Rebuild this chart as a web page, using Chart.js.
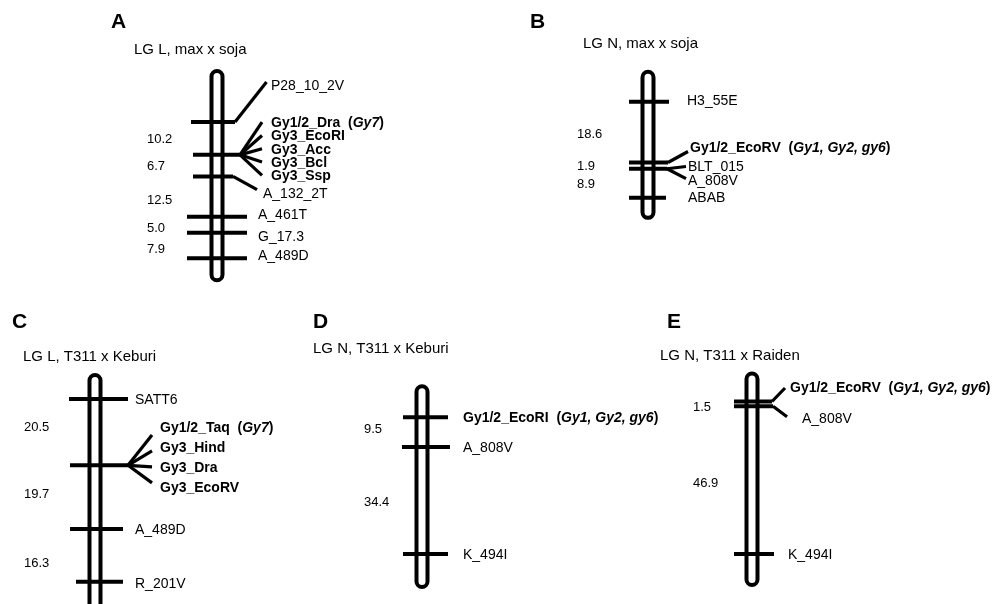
<!DOCTYPE html>
<html>
<head>
<meta charset="utf-8">
<script src="https://cdn.jsdelivr.net/npm/chart.js@4.4.1/dist/chart.umd.min.js"></script>
<style>
  html, body { margin: 0; padding: 0; background: #fff; }
  canvas { display: block; }
</style>
</head>
<body>
<canvas id="map" width="999" height="604"></canvas>
<script>
// ---- Linkage groups: markers per locus (top to bottom) and interval lengths (cM) ----
const lociA = [["P28_10_2V"], ["Gy1/2_Dra", "Gy3_EcoRI", "Gy3_Acc", "Gy3_Bcl", "Gy3_Ssp"], ["A_132_2T"], ["A_461T"], ["G_17.3"], ["A_489D"]];
const gapsA = [10.2, 6.7, 12.5, 5.0, 7.9];

const lociB = [["H3_55E"], ["Gy1/2_EcoRV"], ["BLT_015", "A_808V"], ["ABAB"]];
const gapsB = [18.6, 1.9, 8.9];

const lociC = [["SATT6"], ["Gy1/2_Taq", "Gy3_Hind", "Gy3_Dra", "Gy3_EcoRV"], ["A_489D"], ["R_201V"]];
const gapsC = [20.5, 19.7, 16.3];

const lociD = [["Gy1/2_EcoRI"], ["A_808V"], ["K_494I"]];
const gapsD = [9.5, 34.4];

const lociE = [["Gy1/2_EcoRV"], ["A_808V"], ["K_494I"]];
const gapsE = [1.5, 46.9];

// resistance genes attached to the Gy1/2 markers
const geneNames = {
  "Gy1/2_Dra": "Gy7",
  "Gy1/2_Taq": "Gy7",
  "Gy1/2_EcoRV": "Gy1, Gy2, gy6",
  "Gy1/2_EcoRI": "Gy1, Gy2, gy6"
};

const panelLetters = ["A", "B", "C", "D", "E"];
const panelTitles = ["LG L, max x soja", "LG N, max x soja", "LG L, T311 x Keburi", "LG N, T311 x Keburi", "LG N, T311 x Raiden"];

// ---- Page layout of each panel (pixels) ----
const W = 999, H = 604;
const FONT = '"Liberation Sans", Arial, Helvetica, sans-serif';

const layout = [
  { letter: [111, 28], title: [134, 54], cx: 217, y0: 122, k: 3.22, rodPad: [51, 22], numX: 147, numNudge: [0, 0, 3, 3, 3],
    marks: [
      { l: 26, r: 18, type: "diag", lx: 271, dy: -37, ey: -40, ex: 4.5 },
      { l: 24, r: 23, type: "fan", lx: 271, dy: -32.7, step: 13.3, sq: 1.0, ex: 9 },
      { l: 24, r: 16, type: "diag", lx: 263, dy: 16.6, ey: 13.3, ex: 6 },
      { l: 30, r: 30, lx: 258, dy: -3 },
      { l: 30, r: 30, lx: 258, dy: 3 },
      { l: 30, r: 30, lx: 258, dy: -3 }
    ] },
  { letter: [530, 28], title: [583, 48], cx: 648, y0: 101.7, k: 3.27, rodPad: [30, 20], numX: 577, numNudge: [1, 0, 0],
    marks: [
      { l: 19, r: 21, lx: 687, dy: -2 },
      { l: 19, r: 20, type: "diag", lx: 690, dy: -16, ey: -11, ex: 2 },
      { l: 19, r: 19, type: "fan", lx: 688, dy: -2.6, step: 14.3, sq: 0.85, ex: 2 },
      { l: 19, r: 18, lx: 688, dy: -1 }
    ] },
  { letter: [12, 328], title: [23, 361], cx: 95, y0: 399, k: 3.234, rodPad: [24, 27], numX: 24, numNudge: [-5.5, -4, 7],
    marks: [
      { l: 26, r: 33, lx: 135, dy: 0 },
      { l: 25, r: 33, type: "fan", lx: 160, dy: -38, step: 20, sq: 0.8, ex: 8 },
      { l: 25, r: 28, lx: 135, dy: 0 },
      { l: 19, r: 28, lx: 135, dy: 1 }
    ] },
  { letter: [313, 328], title: [313, 353], cx: 422, y0: 417.3, k: 3.114, rodPad: [31, 33], numX: 364, numNudge: [-4, 1],
    marks: [
      { l: 19, r: 26, lx: 463, dy: 0 },
      { l: 20, r: 28, lx: 463, dy: 0 },
      { l: 19, r: 26, lx: 463, dy: 0 }
    ] },
  { letter: [667, 328], title: [660, 360], cx: 752, y0: 401.5, k: 3.15, rodPad: [28, 31], numX: 693, numNudge: [2, 2],
    marks: [
      { l: 18, r: 20, type: "diag", lx: 790, dy: -14.2, ey: -13.5, ex: 5 },
      { l: 18, r: 21, type: "diag", lx: 802, dy: 11.3, ey: 10.5, ex: 15 },
      { l: 18, r: 22, lx: 788, dy: 0 }
    ] }
];

const lociAll = [lociA, lociB, lociC, lociD, lociE];
const gapsAll = [gapsA, gapsB, gapsC, gapsD, gapsE];

// cumulative map position of every locus
function positions(gaps) {
  const out = [0];
  gaps.forEach(g => out.push(+(out[out.length - 1] + g).toFixed(2)));
  return out;
}

const groups = layout.map((lay, i) => Object.assign({
  id: "y" + panelLetters[i],
  loci: lociAll[i],
  gaps: gapsAll[i],
  pos: positions(gapsAll[i])
}, lay));

// ---- marker ticks as line segments on each group's own cM axis ----
const datasets = groups.map((g, i) => {
  const data = [];
  g.pos.forEach((cm, j) => {
    const m = g.marks[j];
    data.push({ x: g.cx - m.l, y: cm }, { x: g.cx + m.r, y: cm }, { x: g.cx, y: null });
  });
  return {
    label: panelTitles[i],
    data,
    xAxisID: "x",
    yAxisID: g.id,
    borderColor: "#000",
    borderWidth: 4,
    borderCapStyle: "butt",
    pointRadius: 0,
    spanGaps: false,
    fill: false,
    tension: 0
  };
});

const scales = { x: { type: "linear", min: 0, max: W, display: false, bounds: "data" } };
groups.forEach(g => {
  scales[g.id] = { type: "linear", reverse: true, min: -g.y0 / g.k, max: (H - g.y0) / g.k, display: false, bounds: "data" };
});

function drawMarkerLabel(ctx, name, x, cy) {
  const bold = name.startsWith("Gy");
  const base = cy + 5;
  const parts = [{ t: name, f: (bold ? "bold " : "") + "14px " + FONT }];
  const gene = geneNames[name];
  if (gene) {
    parts.push({ t: "  (", f: "bold 14px " + FONT });
    parts.push({ t: gene, f: "italic bold 14px " + FONT });
    parts.push({ t: ")", f: "bold 14px " + FONT });
  }
  let cx = x;
  parts.forEach(p => {
    ctx.font = p.f;
    ctx.fillText(p.t, cx, base);
    cx += ctx.measureText(p.t).width;
  });
}

function line(ctx, x1, y1, x2, y2, w) {
  ctx.beginPath();
  ctx.lineWidth = w;
  ctx.moveTo(x1, y1);
  ctx.lineTo(x2, y2);
  ctx.stroke();
}

const linkageMap = {
  id: "linkageMap",
  beforeDatasetsDraw(chart) {
    const ctx = chart.ctx;
    const xs = chart.scales.x;
    groups.forEach(g => {
      const ys = chart.scales[g.id];
      const top = ys.getPixelForValue(g.pos[0]) - g.rodPad[0];
      const bot = ys.getPixelForValue(g.pos[g.pos.length - 1]) + g.rodPad[1];
      const x = xs.getPixelForValue(g.cx);
      const r = 5.5;
      ctx.save();
      ctx.beginPath();
      ctx.moveTo(x - r, bot - r);
      ctx.lineTo(x - r, top + r);
      ctx.arc(x, top + r, r, Math.PI, 0);
      ctx.lineTo(x + r, bot - r);
      ctx.arc(x, bot - r, r, 0, Math.PI);
      ctx.closePath();
      ctx.fillStyle = "#fff";
      ctx.fill();
      ctx.lineWidth = 4;
      ctx.strokeStyle = "#000";
      ctx.stroke();
      ctx.restore();
    });
  },
  afterDatasetsDraw(chart) {
    const ctx = chart.ctx;
    const xs = chart.scales.x;
    ctx.save();
    ctx.fillStyle = "#000";
    ctx.strokeStyle = "#000";
    ctx.lineCap = "butt";
    ctx.textAlign = "left";
    ctx.textBaseline = "alphabetic";
    groups.forEach((g, i) => {
      const ys = chart.scales[g.id];
      // panel letter and title
      ctx.font = "bold 21px " + FONT;
      ctx.fillText(panelLetters[i], g.letter[0], g.letter[1]);
      ctx.font = "15px " + FONT;
      ctx.fillText(panelTitles[i], g.title[0], g.title[1]);

      // marker names and connectors
      g.loci.forEach((names, j) => {
        const m = g.marks[j];
        const y = ys.getPixelForValue(g.pos[j]);
        const xr = xs.getPixelForValue(g.cx + m.r);
        if (m.type === "diag") {
          line(ctx, xr, y, m.lx - m.ex, y + m.ey, 3.2);
          drawMarkerLabel(ctx, names[0], m.lx, y + m.dy);
        } else if (m.type === "fan") {
          names.forEach((n, q) => {
            const ly = y + m.dy + q * m.step;
            line(ctx, xr, y, m.lx - m.ex, y + (ly - y) * m.sq, 3.2);
            drawMarkerLabel(ctx, n, m.lx, ly);
          });
        } else {
          drawMarkerLabel(ctx, names[0], m.lx, y + m.dy);
        }
      });

      // interval distances
      ctx.font = "13px " + FONT;
      g.gaps.forEach((d, j) => {
        const mid = (ys.getPixelForValue(g.pos[j]) + ys.getPixelForValue(g.pos[j + 1])) / 2;
        ctx.fillText(d.toFixed(1), g.numX, mid + g.numNudge[j] + 4.7);
      });
    });
    ctx.restore();
  }
};

new Chart(document.getElementById("map"), {
  type: "line",
  data: { datasets },
  options: {
    responsive: false,
    animation: false,
    events: [],
    layout: { padding: 0 },
    plugins: { legend: { display: false }, tooltip: { enabled: false } },
    scales
  },
  plugins: [linkageMap]
});
</script>
</body>
</html>
